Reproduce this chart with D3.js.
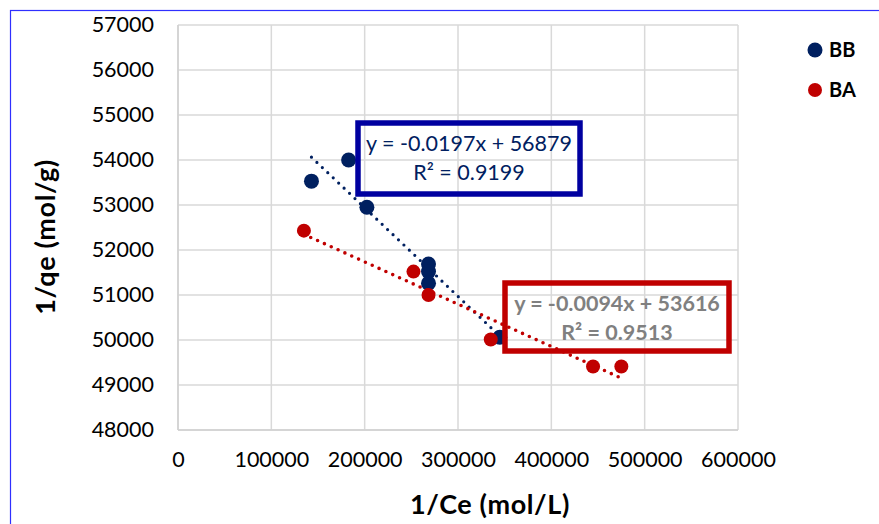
<!DOCTYPE html>
<html>
<head>
<meta charset="utf-8">
<script src="https://cdn.jsdelivr.net/npm/d3@7"></script>
<style>
  body { margin: 0; background: #fff; }
  svg { display: block; font-family: Lato, "Open Sans", sans-serif; }
</style>
</head>
<body>
<div class="chart"></div>
<script>
var w = 879,
  h = 524,
  margin = { top: 25, right: 141, bottom: 94, left: 178 };

// data
var bbX = [143000, 182800, 202400, 268400, 268400, 268400, 344800],
  bbY = [53530, 54000, 52950, 51690, 51520, 51260, 50060];
var baX = [134900, 252300, 268400, 335100, 444700, 475000],
  baY = [52430, 51520, 51000, 50010, 49410, 49410];
var seriesNames = ['BB', 'BA'],
  seriesColors = ['#002060', '#c00000'];
var slopes = [-0.0197, -0.0094],
  intercepts = [56879, 53616],
  eqLabels = [['y = -0.0197x + 56879', 'R\u00b2 = 0.9199'], ['y = -0.0094x + 53616', 'R\u00b2 = 0.9513']];
var xTicks = [0, 100000, 200000, 300000, 400000, 500000, 600000],
  yTicks = [48000, 49000, 50000, 51000, 52000, 53000, 54000, 55000, 56000, 57000];

var svg = d3.select('.chart')
  .append('svg')
  .attr('width', w)
  .attr('height', h);

// outer frame
svg.append('rect')
  .attr('x', 10.5).attr('y', 10.5)
  .attr('width', w + 20).attr('height', h + 20)
  .attr('fill', 'none')
  .attr('stroke', '#2f2fff')
  .attr('stroke-width', 1.2);

var x = d3.scaleLinear().domain([0, 600000]).range([margin.left, w - margin.right]);
var y = d3.scaleLinear().domain([48000, 57000]).range([h - margin.bottom, margin.top]);

// grid
svg.append('g')
  .selectAll('line.vg')
  .data(xTicks)
  .enter()
  .append('line')
  .attr('x1', function (d) { return x(d); })
  .attr('x2', function (d) { return x(d); })
  .attr('y1', y(57000)).attr('y2', y(48000))
  .attr('stroke', '#d9d9d9').attr('stroke-width', 1.5);
svg.append('g')
  .selectAll('line.hg')
  .data(yTicks)
  .enter()
  .append('line')
  .attr('y1', function (d) { return y(d); })
  .attr('y2', function (d) { return y(d); })
  .attr('x1', x(0)).attr('x2', x(600000))
  .attr('stroke', '#d9d9d9').attr('stroke-width', 1.5);

// axes (labels only, Excel style)
var xAxis = svg.append('g')
  .attr('transform', 'translate(0,' + y(48000) + ')')
  .call(d3.axisBottom(x).tickValues(xTicks).tickSize(0).tickPadding(22).tickFormat(d3.format('d')));
var yAxis = svg.append('g')
  .attr('transform', 'translate(' + x(0) + ',0)')
  .call(d3.axisLeft(y).tickValues(yTicks).tickSize(0).tickPadding(24).tickFormat(d3.format('d')));
[xAxis, yAxis].forEach(function (a) {
  a.select('.domain').remove();
  a.selectAll('text')
    .attr('font-family', 'Lato, "Open Sans", sans-serif')
    .attr('font-size', 21.5)
    .attr('fill', '#000');
});
// keep axis lines gray
svg.append('line')
  .attr('x1', x(0)).attr('x2', x(0)).attr('y1', y(57000)).attr('y2', y(48000))
  .attr('stroke', '#d0d0d0').attr('stroke-width', 1.5);
svg.append('line')
  .attr('x1', x(0)).attr('x2', x(600000)).attr('y1', y(48000)).attr('y2', y(48000))
  .attr('stroke', '#d0d0d0').attr('stroke-width', 1.5);

// axis titles
svg.append('text')
  .attr('x', 490).attr('y', 514)
  .attr('text-anchor', 'middle')
  .attr('font-size', 27).attr('font-weight', 'bold')
  .attr('letter-spacing', 0.6)
  .text('1/Ce (mol/L)');
svg.append('text')
  .attr('transform', 'translate(55,' + 237 + ') rotate(-90)')
  .attr('text-anchor', 'middle')
  .attr('font-size', 27).attr('font-weight', 'bold')
  .attr('letter-spacing', 0.6)
  .text('1/qe (mol/g)');

// points
var series = [
  { xs: bbX, ys: bbY, r: 7.5 },
  { xs: baX, ys: baY, r: 7 }
];
series.forEach(function (s, i) {
  svg.append('g')
    .selectAll('circle')
    .data(d3.range(s.xs.length))
    .enter()
    .append('circle')
    .attr('cx', function (k) { return x(s.xs[k]); })
    .attr('cy', function (k) { return y(s.ys[k]); })
    .attr('r', s.r)
    .attr('fill', seriesColors[i]);
});

// dotted trendlines from the fitted equations
series.forEach(function (s, i) {
  var ext = d3.extent(s.xs);
  svg.append('line')
    .attr('x1', x(ext[0])).attr('y1', y(slopes[i] * ext[0] + intercepts[i]))
    .attr('x2', x(ext[1])).attr('y2', y(slopes[i] * ext[1] + intercepts[i]))
    .attr('stroke', seriesColors[i])
    .attr('stroke-width', i === 0 ? 3.2 : 3.6)
    .attr('stroke-linecap', 'round')
    .attr('stroke-dasharray', '0,7.5');
});

// equation boxes
var boxes = [
  { x: 358, y: 123, w: 222, h: 71, stroke: '#0000a0', color: '#002060', weight: 'normal', sw: 5.5 },
  { x: 505, y: 283, w: 224, h: 68, stroke: '#c00000', color: '#808080', weight: 'bold', sw: 5.5 }
];
boxes.forEach(function (b, i) {
  svg.append('rect')
    .attr('x', b.x).attr('y', b.y)
    .attr('width', b.w).attr('height', b.h)
    .attr('fill', 'none')
    .attr('stroke', b.stroke)
    .attr('stroke-width', b.sw);
  svg.append('text')
    .attr('x', b.x + b.w / 2).attr('y', b.y + 28)
    .attr('text-anchor', 'middle')
    .attr('font-size', 21.5).attr('font-weight', b.weight)
    .attr('fill', b.color)
    .text(eqLabels[i][0]);
  svg.append('text')
    .attr('x', b.x + b.w / 2).attr('y', b.y + 57)
    .attr('text-anchor', 'middle')
    .attr('font-size', 21.5).attr('font-weight', b.weight)
    .attr('fill', b.color)
    .text(eqLabels[i][1]);
});

// legend
seriesNames.forEach(function (n, i) {
  var ly = 50 + i * 40;
  svg.append('circle')
    .attr('cx', 815).attr('cy', ly)
    .attr('r', i === 0 ? 7.5 : 7)
    .attr('fill', seriesColors[i]);
  svg.append('text')
    .attr('x', 829).attr('y', ly + 7)
    .attr('font-size', 20).attr('font-weight', 'bold')
    .text(n);
});
</script>
</body>
</html>
